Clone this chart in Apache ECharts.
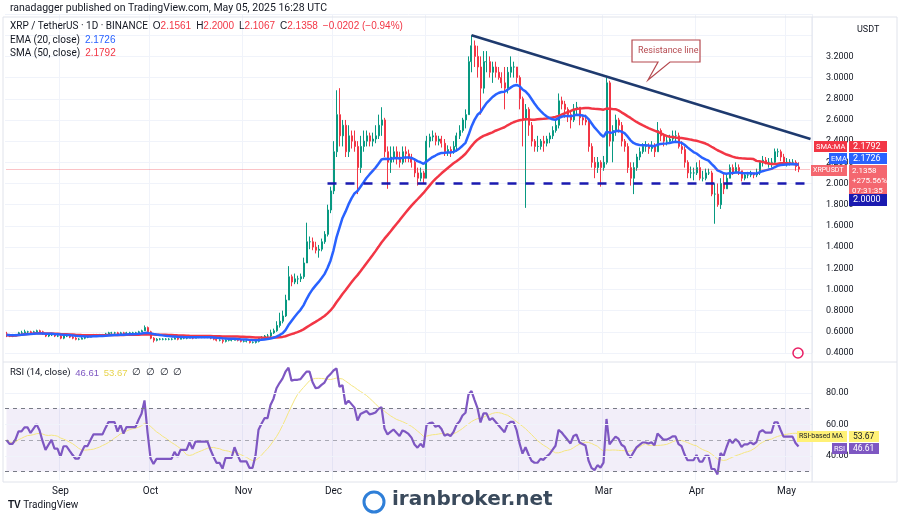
<!DOCTYPE html>
<html><head><meta charset="utf-8">
<script src="https://cdn.jsdelivr.net/npm/echarts@6/dist/echarts.min.js"></script>
<style>html,body{margin:0;padding:0;background:#fff}#c{width:900px;height:520px}</style>
</head><body><div id="c"></div>
<script>
// Daily closes Aug 14 2024 .. May 5 2025
const closes = [
0.57,0.56,0.56,0.57,0.59,0.59,0.60,0.60,0.59,0.60,0.61,0.60,0.58,0.56,0.57,0.58,0.56,0.56,
0.54,0.56,0.56,0.55,0.54,0.53,0.53,0.54,0.55,0.55,0.56,0.57,0.57,0.57,0.57,0.58,0.59,0.59,0.59,0.58,0.59,0.58,0.59,0.59,0.59,0.59,0.60,0.61,0.64,0.60,
0.54,0.52,0.53,0.53,0.53,0.53,0.53,0.53,0.54,0.53,0.54,0.54,0.54,0.55,0.54,0.55,0.55,0.55,0.55,0.55,0.54,0.53,0.52,0.52,0.51,0.52,0.52,0.52,0.53,0.52,0.51,
0.51,0.51,0.50,0.50,0.51,0.54,0.55,0.56,0.56,0.59,0.61,0.66,0.70,0.75,0.90,1.12,1.07,1.10,1.10,1.12,1.25,1.45,1.45,1.40,1.37,1.38,1.45,1.52,1.75,1.93,
2.30,2.65,2.45,2.55,2.30,2.45,2.40,2.35,2.15,2.35,2.40,2.45,2.40,2.42,2.45,2.55,2.60,2.30,2.20,2.25,2.30,2.25,2.20,2.30,2.28,2.25,2.20,2.10,2.05,2.10,2.05,
2.40,2.44,2.45,2.40,2.42,2.38,2.30,2.32,2.30,2.35,2.45,2.50,2.60,2.65,3.15,3.30,3.20,3.10,2.90,3.15,3.15,3.05,3.10,3.05,3.00,2.95,2.90,3.05,3.10,3.10,3.00,
2.80,2.60,2.70,2.55,2.40,2.35,2.35,2.40,2.38,2.42,2.45,2.50,2.55,2.78,2.75,2.70,2.65,2.60,2.70,2.72,2.62,2.60,2.58,2.35,2.20,2.15,2.20,2.15,
2.20,2.95,2.40,2.50,2.60,2.55,2.40,2.35,2.15,2.05,2.15,2.25,2.30,2.35,2.35,2.33,2.35,2.30,2.50,2.45,2.40,2.40,2.42,2.45,2.45,2.35,2.32,2.20,2.10,2.10,2.10,
2.15,2.05,2.05,2.10,2.10,1.90,1.90,1.80,2.00,1.95,2.05,2.15,2.10,2.15,2.12,2.05,2.08,2.08,2.10,2.08,2.10,2.20,2.22,2.20,2.20,2.20,2.30,2.30,2.25,2.20,
2.20,2.20,2.20,2.16,2.1358];
const highs = [
0.60,0.58,0.58,0.58,0.60,0.61,0.62,0.61,0.61,0.61,0.62,0.62,0.61,0.59,0.58,0.59,0.58,0.57,
0.57,0.57,0.57,0.57,0.56,0.55,0.54,0.55,0.56,0.56,0.57,0.58,0.58,0.58,0.58,0.59,0.60,0.60,0.60,0.60,0.60,0.60,0.60,0.60,0.60,0.60,0.61,0.62,0.66,0.65,
0.61,0.55,0.54,0.54,0.54,0.54,0.54,0.54,0.55,0.55,0.55,0.55,0.55,0.56,0.56,0.56,0.56,0.56,0.56,0.56,0.56,0.55,0.54,0.53,0.53,0.53,0.53,0.53,0.54,0.54,0.53,
0.53,0.52,0.52,0.51,0.52,0.55,0.56,0.57,0.58,0.62,0.63,0.70,0.78,0.80,0.95,1.22,1.14,1.15,1.13,1.15,1.30,1.63,1.50,1.49,1.45,1.42,1.48,1.55,1.80,1.97,
2.40,2.88,2.90,2.60,2.60,2.55,2.50,2.50,2.40,2.45,2.50,2.50,2.48,2.48,2.55,2.65,2.72,2.62,2.35,2.35,2.35,2.35,2.30,2.35,2.35,2.32,2.28,2.24,2.15,2.15,2.12,
2.45,2.47,2.50,2.48,2.45,2.45,2.42,2.36,2.35,2.40,2.48,2.55,2.62,2.70,3.20,3.40,3.35,3.30,3.20,3.25,3.25,3.20,3.15,3.15,3.10,3.05,3.10,3.10,3.20,3.15,3.10,
3.02,2.82,2.75,2.72,2.58,2.42,2.45,2.42,2.45,2.45,2.48,2.54,2.60,2.85,2.82,2.78,2.72,2.68,2.75,2.77,2.72,2.65,2.65,2.60,2.38,2.25,2.25,2.22,
2.26,3.00,2.97,2.55,2.65,2.62,2.58,2.42,2.38,2.20,2.20,2.28,2.34,2.38,2.40,2.38,2.40,2.38,2.58,2.52,2.47,2.45,2.46,2.50,2.50,2.48,2.40,2.35,2.22,2.16,2.15,
2.20,2.22,2.12,2.14,2.14,2.12,2.00,2.00,2.05,2.10,2.08,2.18,2.18,2.20,2.18,2.12,2.10,2.11,2.12,2.10,2.14,2.22,2.26,2.25,2.24,2.24,2.33,2.33,2.32,2.28,
2.24,2.23,2.23,2.22,2.2000];
const lows = [
0.55,0.55,0.55,0.56,0.57,0.58,0.59,0.58,0.58,0.59,0.59,0.59,0.57,0.55,0.55,0.56,0.55,0.55,
0.53,0.53,0.55,0.54,0.53,0.52,0.52,0.53,0.53,0.54,0.55,0.56,0.56,0.56,0.56,0.57,0.58,0.58,0.58,0.57,0.58,0.57,0.58,0.58,0.58,0.58,0.59,0.60,0.61,0.59,
0.53,0.50,0.51,0.52,0.52,0.52,0.52,0.52,0.53,0.52,0.53,0.53,0.53,0.54,0.53,0.54,0.54,0.54,0.54,0.54,0.53,0.52,0.51,0.51,0.49,0.50,0.51,0.51,0.52,0.51,0.50,
0.50,0.50,0.49,0.49,0.49,0.50,0.53,0.54,0.55,0.55,0.58,0.60,0.64,0.68,0.74,0.90,1.03,1.05,1.05,1.07,1.10,1.25,1.38,1.37,1.34,1.30,1.36,1.43,1.50,1.72,
1.90,2.25,2.35,2.35,2.25,2.25,2.33,2.30,1.90,2.10,2.30,2.35,2.35,2.35,2.38,2.42,2.45,2.25,1.95,2.10,2.20,2.18,2.15,2.18,2.20,2.20,2.15,2.06,1.98,2.02,2.00,
2.05,2.34,2.40,2.36,2.36,2.34,2.26,2.26,2.25,2.28,2.30,2.42,2.48,2.52,2.65,3.05,3.10,3.00,2.65,2.85,3.05,3.00,2.95,3.00,2.98,2.90,2.70,2.85,3.00,3.00,2.95,
2.70,2.35,1.77,2.45,2.35,2.30,2.30,2.32,2.30,2.35,2.38,2.42,2.48,2.52,2.70,2.62,2.58,2.52,2.58,2.64,2.55,2.55,2.55,2.30,2.15,2.05,2.10,1.97,
2.12,2.18,2.35,2.20,2.45,2.48,2.35,2.30,2.10,1.98,1.90,2.12,2.22,2.28,2.30,2.28,2.30,2.25,2.30,2.40,2.35,2.36,2.38,2.40,2.40,2.33,2.28,2.15,2.05,2.05,2.03,
2.08,2.03,2.02,2.03,2.08,1.88,1.62,1.78,1.76,1.90,1.95,2.05,2.08,2.10,2.08,2.02,2.03,2.05,2.06,2.05,2.06,2.08,2.16,2.18,2.15,2.15,2.19,2.25,2.21,2.17,
2.16,2.17,2.18,2.12,2.1067];
const firstOpen = 0.58;
const lastOpen = 2.1561;
const priceTicks = [0.4,0.6,0.8,1.0,1.2,1.4,1.6,1.8,2.0,2.2,2.4,2.6,2.8,3.0,3.2];
const supportLevel = 2.0;
const resistStart = 3.40, resistEnd = 2.42;
const rsiSeedGain = 0.008, rsiSeedLoss = 0.008;
const monthNames = ['Jan','Feb','Mar','Apr','May','Jun','Jul','Aug','Sep','Oct','Nov','Dec'];

const N = closes.length, EXTRA = 4;
const dates = [];
for (let i = 0; i < N + EXTRA; i++) {
  const d = new Date(Date.UTC(2024, 7, 14 + i));
  dates.push(d.toISOString().slice(0, 10));
}
const candles = closes.map((c, i) => {
  let o = i === 0 ? firstOpen : closes[i - 1];
  if (i === N - 1) o = lastOpen;
  return [o, c, lows[i], highs[i]];
});
const ema = []; let e = closes[0]; const k = 2 / 21;
closes.forEach((c, i) => { e = i === 0 ? c : c * k + e * (1 - k); ema.push(+e.toFixed(4)); });
const sma = closes.map((c, i) => { const s = closes.slice(Math.max(0, i - 49), i + 1); return +(s.reduce((a, b) => a + b, 0) / s.length).toFixed(4); });
const rsi = []; let ag = rsiSeedGain, al = rsiSeedLoss;
for (let i = 0; i < N; i++) {
  const ch = i === 0 ? 0 : closes[i] - closes[i - 1];
  const g = Math.max(ch, 0), l = Math.max(-ch, 0);
  ag = (ag * 13 + g) / 14; al = (al * 13 + l) / 14;
  rsi.push(+(100 - 100 / (1 + ag / al)).toFixed(2));
}
const rsiMa = rsi.map((v, i) => { const s = rsi.slice(Math.max(0, i - 13), i + 1); return +(s.reduce((a, b) => a + b, 0) / s.length).toFixed(2); });

const isMonthStart = (i) => dates[i] && dates[i].slice(8) === '01';
const chart = echarts.init(document.getElementById('c'));
const F = 'Roboto, "Noto Sans", sans-serif';
const gridC = '#f0f3fa';
const lastIdx = dates.length - 1;

const gfx = [
    { type: 'rect', shape: { x: 3, y: 17, width: 894, height: 465 }, style: { fill: 'none', stroke: '#e0e3eb' }, silent: true },
    { type: 'line', shape: { x1: 812, y1: 17, x2: 812, y2: 482 }, style: { stroke: '#e0e3eb' } },
    { type: 'line', shape: { x1: 3, y1: 362, x2: 897, y2: 362 }, style: { stroke: '#e0e3eb' } },
    { type: 'text', left: 10, top: 3, style: { text: 'ranadagger published on TradingView.com, May 05, 2025 16:28 UTC', fontSize: 10.5, fill: '#131722', fontFamily: F } },
    { type: 'text', left: 10, top: 21, style: { fontFamily: F, fontSize: 10, fill: '#131722',
      text: 'XRP / TetherUS · 1D · BINANCE  {l|O}{r|2.1561}  {l|H}{r|2.2000}  {l|L}{r|2.1067}  {l|C}{r|2.1358}  {r|−0.0202 (−0.94%)}',
      rich: { l: { fill: '#131722', fontSize: 10 }, r: { fill: '#f23645', fontSize: 10 } } } },
    { type: 'text', left: 10, top: 35, style: { fontFamily: F, fontSize: 10, fill: '#131722', text: 'EMA (20, close)  {b|2.1726}', rich: { b: { fill: '#2962ff', fontSize: 10 } } } },
    { type: 'text', left: 10, top: 48, style: { fontFamily: F, fontSize: 10, fill: '#131722', text: 'SMA (50, close)  {b|2.1792}', rich: { b: { fill: '#f23645', fontSize: 10 } } } },
    { type: 'text', left: 857, top: 25, style: { text: 'USDT', fontSize: 9, fill: '#131722', fontFamily: F } },
    { type: 'text', left: 10, top: 368, style: { fontFamily: F, fontSize: 9.5, fill: '#131722', text: 'RSI (14, close)  {p|46.61}  {y|53.67}  ∅  ∅  ∅  ∅', rich: { p: { fill: '#7e57c2', fontSize: 9.5 }, y: { fill: '#e8d44d', fontSize: 9.5 } } } },
    { type: 'rect', shape: { x: 814, y: 141, width: 33, height: 11 }, style: { fill: '#f23645' } },
    { type: 'text', left: 816, top: 143, style: { text: 'SMA:MA', fontSize: 7.5, fill: '#fff', fontFamily: F } },
    { type: 'rect', shape: { x: 849, y: 141, width: 38, height: 11 }, style: { fill: '#f23645' } },
    { type: 'text', left: 853, top: 142, style: { text: '2.1792', fontSize: 9, fill: '#fff', fontFamily: F } },
    { type: 'rect', shape: { x: 829, y: 153, width: 18, height: 11 }, style: { fill: '#2962ff' } },
    { type: 'text', left: 831, top: 155, style: { text: 'EMA', fontSize: 7.5, fill: '#fff', fontFamily: F } },
    { type: 'rect', shape: { x: 849, y: 153, width: 38, height: 11 }, style: { fill: '#2962ff' } },
    { type: 'text', left: 853, top: 154, style: { text: '2.1726', fontSize: 9, fill: '#fff', fontFamily: F } },
    { type: 'rect', shape: { x: 811, y: 165, width: 36, height: 11 }, style: { fill: '#f4676f' } },
    { type: 'text', left: 813, top: 167, style: { text: 'XRPUSDT', fontSize: 7, fill: '#fff', fontFamily: F } },
    { type: 'rect', shape: { x: 849, y: 165, width: 38, height: 31 }, style: { fill: '#f4676f' } },
    { type: 'text', left: 852, top: 166, style: { text: '2.1358\n+275.56%\n07:31:35', fontSize: 8, lineHeight: 10, fill: '#fff', fontFamily: F } },
    { type: 'rect', shape: { x: 849, y: 194, width: 38, height: 12 }, style: { fill: '#1a1ab0' } },
    { type: 'text', left: 853, top: 195, style: { text: '2.0000', fontSize: 9, fill: '#fff', fontFamily: F } },
    { type: 'rect', shape: { x: 797, y: 431, width: 50, height: 11 }, style: { fill: '#fff176' } },
    { type: 'text', left: 799, top: 433, style: { text: 'RSI-based MA', fontSize: 7, fill: '#131722', fontFamily: F } },
    { type: 'rect', shape: { x: 849, y: 431, width: 30, height: 11 }, style: { fill: '#fff176' } },
    { type: 'text', left: 853, top: 432, style: { text: '53.67', fontSize: 8.5, fill: '#131722', fontFamily: F } },
    { type: 'rect', shape: { x: 832, y: 443, width: 15, height: 11 }, style: { fill: '#7e57c2' } },
    { type: 'text', left: 834, top: 445, style: { text: 'RSI', fontSize: 7.5, fill: '#fff', fontFamily: F } },
    { type: 'rect', shape: { x: 849, y: 443, width: 30, height: 11 }, style: { fill: '#7e57c2' } },
    { type: 'text', left: 853, top: 444, style: { text: '46.61', fontSize: 8.5, fill: '#fff', fontFamily: F } },
    { type: 'polygon', shape: { points: [[632, 40], [700, 40], [700, 62], [670, 62], [648, 80], [658, 62], [632, 62]] }, style: { fill: '#fff', stroke: '#b5494f', lineWidth: 1.2 } },
    { type: 'text', left: 638, top: 46, style: { text: 'Resistance line', fontSize: 9, fill: '#b5494f', fontFamily: F } },
    { type: 'circle', shape: { cx: 374, cy: 502, r: 10 }, style: { fill: 'none', stroke: '#2f7fd8', lineWidth: 3 } },
    { type: 'text', left: 392, top: 490, style: { text: 'iranbroker.net', fontSize: 20, fontWeight: 'bold', fill: '#3a4a5c', fontFamily: '"DejaVu Sans", sans-serif' } },
    { type: 'text', left: 8, top: 500, style: { text: '{b|TV} TradingView', fontSize: 10, fill: '#131722', fontFamily: F, rich: { b: { fontWeight: 'bold', fontSize: 10, fill: '#131722' } } } },
    { type: 'circle', shape: { cx: 798, cy: 353, r: 5 }, style: { fill: 'none', stroke: '#e91e63', lineWidth: 1.5 } }
];
gfx.forEach(g => { g.z = 100; });

chart.setOption({
  animation: false,
  textStyle: { fontFamily: F },
  grid: [
    { left: 5, right: 88, top: 14, height: 339 },
    { left: 5, right: 88, top: 363, height: 117 }
  ],
  xAxis: [
    { type: 'category', data: dates, gridIndex: 0, axisLine: { show: false }, axisTick: { show: false }, axisLabel: { show: false },
      splitLine: { show: true, interval: (i) => isMonthStart(i), lineStyle: { color: gridC } } },
    { type: 'category', data: dates, gridIndex: 1, axisLine: { show: false }, axisTick: { show: false },
      splitLine: { show: true, interval: (i) => isMonthStart(i), lineStyle: { color: gridC } },
      axisLabel: { interval: (i) => isMonthStart(i) && !['01', '02'].includes(dates[i].slice(5, 7)),
        formatter: (v) => monthNames[+v.slice(5, 7) - 1], color: '#131722', fontSize: 10, margin: 6 } }
  ],
  yAxis: [
    { type: 'value', gridIndex: 0, position: 'right', min: 0.4, max: 3.6, interval: 0.2, axisLine: { show: false },
      axisLabel: { color: '#131722', fontSize: 9, margin: 14, formatter: (v) => priceTicks.some(t => Math.abs(t - v) < 1e-6) ? v.toFixed(4) : '' },
      splitLine: { lineStyle: { color: gridC } } },
    { type: 'value', gridIndex: 1, position: 'right', min: 24.6, max: 99, axisLine: { show: false },
      axisLabel: { customValues: [40, 60, 80], color: '#131722', fontSize: 9, margin: 14, formatter: (v) => v.toFixed(2) },
      axisTick: { show: false }, splitLine: { show: false } }
  ],
  series: [
    { type: 'candlestick', xAxisIndex: 0, yAxisIndex: 0, data: candles, barMaxWidth: 2.2,
      itemStyle: { color: '#089981', color0: '#f23645', borderColor: '#089981', borderColor0: '#f23645', borderWidth: 1 },
      markLine: { symbol: 'none', silent: true, label: { show: false }, data: [
        [{ coord: [dates[107], supportLevel], lineStyle: { color: '#1a1ab0', width: 2.5, type: [9, 9] } }, { coord: [dates[lastIdx], supportLevel] }],
        [{ coord: [dates[155], resistStart], lineStyle: { color: '#1e3a6e', width: 2.5, type: 'solid' } }, { coord: [dates[lastIdx], resistEnd] }],
        [{ coord: [dates[0], closes[N - 1]], lineStyle: { color: '#f23645', width: 1, type: 'dotted', opacity: 0.6 } }, { coord: [dates[lastIdx], closes[N - 1]] }]
      ] } },
    { type: 'line', xAxisIndex: 0, yAxisIndex: 0, data: sma, symbol: 'none', lineStyle: { color: '#f23645', width: 2.5 } },
    { type: 'line', xAxisIndex: 0, yAxisIndex: 0, data: ema, symbol: 'none', lineStyle: { color: '#2962ff', width: 2.5 } },
    { type: 'line', xAxisIndex: 1, yAxisIndex: 1, data: rsiMa, symbol: 'none', lineStyle: { color: '#f5e680', width: 1 } },
    { type: 'line', xAxisIndex: 1, yAxisIndex: 1, data: rsi, symbol: 'none', lineStyle: { color: '#7e57c2', width: 2.2 },
      markArea: { silent: true, itemStyle: { color: 'rgba(126,87,194,0.1)' }, data: [[{ coord: [dates[0], 70] }, { coord: [dates[lastIdx], 30] }]] },
      markLine: { symbol: 'none', silent: true, label: { show: false }, data: [
        { yAxis: 70, lineStyle: { color: '#787b86', type: [4, 4], width: 1 } },
        { yAxis: 50, lineStyle: { color: '#787b86', type: [4, 4], width: 1, opacity: 0.6 } },
        { yAxis: 30, lineStyle: { color: '#787b86', type: [4, 4], width: 1 } },
        { yAxis: 80, lineStyle: { color: gridC, type: 'solid', width: 1 } },
        { yAxis: 60, lineStyle: { color: gridC, type: 'solid', width: 1 } },
        { yAxis: 40, lineStyle: { color: gridC, type: 'solid', width: 1 } }
      ] } }
  ],
  graphic: gfx
});
</script></body></html>
